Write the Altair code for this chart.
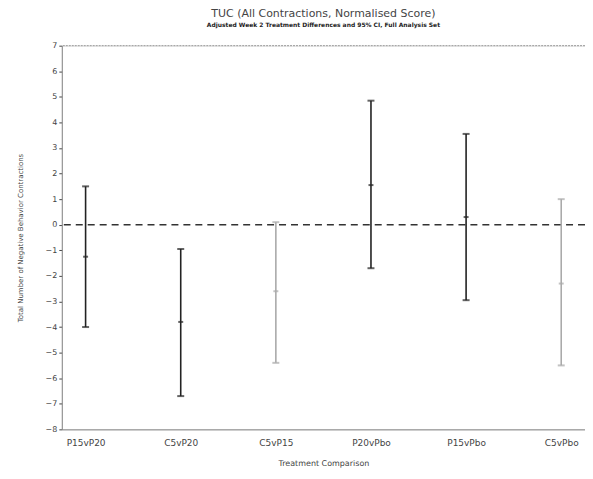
import altair as alt
import pandas as pd

comparisons = ["P15vP20", "C5vP20", "C5vP15", "P20vPbo", "P15vPbo", "C5vPbo"]
estimates = [-1.25, -3.8, -2.6, 1.55, 0.3, -2.3]
lower_ci = [-4.0, -6.7, -5.4, -1.7, -2.95, -5.5]
upper_ci = [1.5, -0.95, 0.1, 4.85, 3.55, 1.0]
shade = ["dark", "dark", "light", "dark", "dark", "light"]
y_ticks = list(range(-8, 8))

df = pd.DataFrame({
    "comp": comparisons,
    "est": estimates,
    "lo": lower_ci,
    "hi": upper_ci,
    "shade": shade,
})

xenc = alt.X("comp:N", sort=comparisons,
             scale=alt.Scale(type="point", padding=0.25),
             axis=alt.Axis(title="Treatment Comparison", labelAngle=0,
                           labelFontSize=9, titleFontSize=8, titleFontWeight="normal",
                           labelColor="#444", titleColor="#444", domainColor="#888",
                           ticks=False, labelPadding=9, titlePadding=12))
yscale = alt.Scale(domain=[-8, 7], nice=False)
yaxis = alt.Axis(title="Total Number of Negative Behavior Contractions",
                 values=y_ticks, grid=False, labelFontSize=8,
                 labelOverlap=False, labelFlush=False,
                 titleFontSize=7, titleFontWeight="normal", labelColor="#444",
                 titleColor="#444", domainColor="#888", tickColor="#444",
                 tickSize=3, titlePadding=22)
color = alt.Color("shade:N", scale=alt.Scale(domain=["dark", "light"],
                                             range=["#222222", "#aaaaaa"]), legend=None)

def Y(field):
    return alt.Y(field, scale=yscale, axis=yaxis)

base = alt.Chart(df)
rules = base.mark_rule(strokeWidth=1.6).encode(
    x=xenc, y=Y("lo:Q"), y2="hi:Q", color=color)
tlo = base.mark_tick(size=7, thickness=2).encode(x=xenc, y=Y("lo:Q"), color=color)
thi = base.mark_tick(size=7, thickness=2).encode(x=xenc, y=Y("hi:Q"), color=color)
mean = base.mark_tick(size=5, thickness=2).encode(x=xenc, y=Y("est:Q"), color=color)
zero = alt.Chart(pd.DataFrame({"z": [0]})).mark_rule(
    strokeDash=[7, 5], strokeWidth=1.5, color="#333").encode(y=Y("z:Q"))
top = alt.Chart(pd.DataFrame({"t": [7]})).mark_rule(
    strokeWidth=1, color="#999", strokeDash=[2, 1]).encode(y=Y("t:Q"))

chart = alt.layer(top, zero, rules, tlo, thi, mean).properties(
    width=525, height=385,
    title=alt.TitleParams(
        "TUC (All Contractions, Normalised Score)",
        subtitle="Adjusted Week 2 Treatment Differences and 95% CI, Full Analysis Set",
        fontSize=11, fontWeight="normal", color="#444",
        subtitleFontSize=6, subtitleColor="#222", subtitleFontWeight="bold",
        subtitlePadding=3, offset=14, anchor="middle"),
    autosize=alt.AutoSizeParams(type="none"),
    padding={"left": 54, "top": 37, "right": 0, "bottom": 45},
).configure_view(stroke=None).configure(font="DejaVu Sans")

chart.save("out.html", embed_options={"renderer": "svg", "actions": False})
